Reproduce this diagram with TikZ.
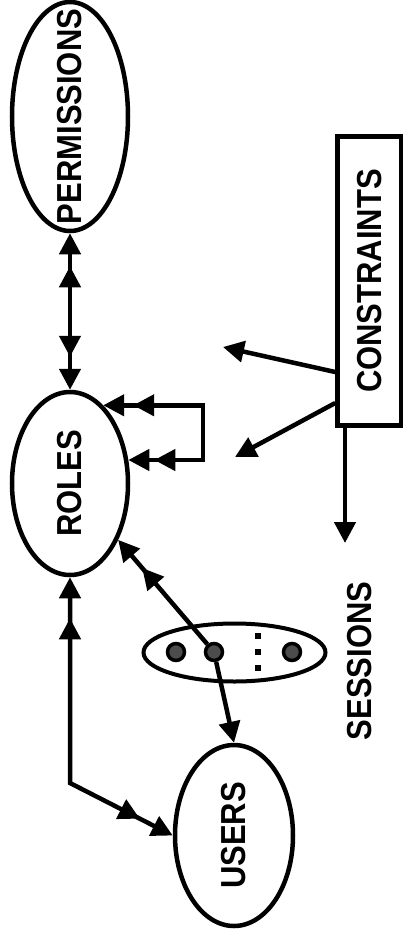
\documentclass[tikz,border=0pt]{standalone}
\usepackage{fontspec}
\setmainfont{Liberation Sans}
\usetikzlibrary{arrows.meta,shapes.geometric,decorations.markings}
\newcommand\biglbl[1]{\rotatebox{90}{\makebox[0pt]{\scalebox{1}[1.12]{#1}}}}
\newcommand\bigfnt{\fontsize{31pt}{31pt}\selectfont\bfseries}
\begin{document}
\begin{tikzpicture}[x=1pt,y=-1pt,
  tri/.tip={Triangle[length=21pt,width=21pt]},
  conn/.style={line width=4.5pt},
  endtwo/.style={postaction={decorate,decoration={markings,mark=at position -#1 with {\arrow{tri}}}}},
  starttwo/.style={postaction={decorate,decoration={markings,mark=at position #1 with {\arrowreversed{tri}}}}},
  ell/.style={ellipse, draw, line width=4.5pt, inner sep=0pt, font=\bigfnt},
  dot/.style={circle, draw, line width=3.5pt, fill=black!70, minimum size=17pt, inner sep=0pt},
]
\useasboundingbox (0,0) rectangle (403,946);
% main entities
\node[ell, minimum width=116pt, minimum height=229pt] (P) at (70,116.5) {\biglbl{PERMISSIONS}};
\node[ell, minimum width=116pt, minimum height=183pt] (R) at (70,483.5) {\biglbl{ROLES}};
\node[ell, minimum width=118pt, minimum height=181pt] (U) at (234,835.5) {\biglbl{USERS}};
\node[draw, line width=4.5pt, minimum width=64pt, minimum height=289pt, inner sep=0pt, font=\bigfnt] (C) at (369.5,281) {\biglbl{CONSTRAINTS}};
\node[font=\bigfnt, inner sep=0pt] (S) at (360,661) {\biglbl{SESSIONS}};
% sessions group
\node[ellipse, draw, line width=4pt, minimum width=182pt, minimum height=58pt, inner sep=0pt] (SE) at (234.5,652.5) {};
\node[dot] (c1) at (176,652) {};
\node[dot] (c2) at (214,652) {};
\node[dot] (c3) at (292,652) {};
\fill (255,633) rectangle ++(6,6);
\fill (255,649) rectangle ++(6,6);
\fill (255,665) rectangle ++(6,6);
% coordinates
\coordinate (la) at (203,405);
\coordinate (lb) at (203,460);
\coordinate (ru) at (70,783);
\coordinate (k1) at (223,347);
\coordinate (k2) at (235,457);
\coordinate (k3) at (345,543);
% connectors
\draw[conn, tri-tri, starttwo=33pt, endtwo=33pt] (P) -- (R);
\draw[conn, tri-tri, starttwo=30pt, endtwo=26pt] (R.67.4) -| (lb) -- (lb -| R.22);
\draw[conn, tri-tri, starttwo=41pt, endtwo=37pt] (R.south) -- (ru) -- (U.west);
\draw[conn, -tri, endtwo=37pt] (c2) -- (R);
\draw[conn, -tri] (c2) -- (U.north);
\draw[conn, -tri] ([yshift=-91pt]C.west) -- (k1);
\draw[conn, -tri] ([yshift=-122pt]C.west) -- (k2);
\draw[conn, -tri] ([xshift=-24.5pt]C.south) -- (k3);
\end{tikzpicture}
\end{document}
